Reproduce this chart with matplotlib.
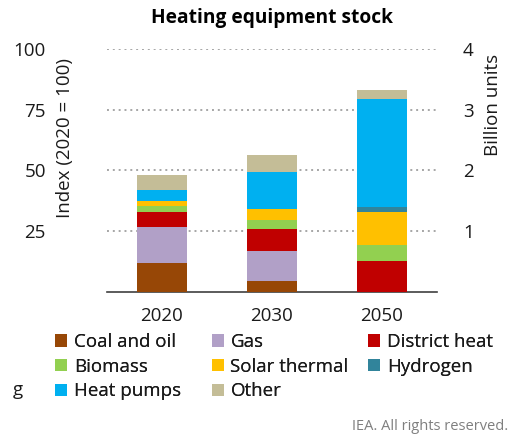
import matplotlib
matplotlib.use("Agg")
import matplotlib.pyplot as plt
import numpy as np

plt.rcParams['font.family'] = ['Open Sans', 'DejaVu Sans']

years = ["2020", "2030", "2050"]
categories = ["Coal and oil", "Gas", "District heat", "Biomass", "Solar thermal",
              "Hydrogen", "Heat pumps", "Other"]
colors = ["#974706", "#B1A0C7", "#C00000", "#92D050", "#FFC000",
          "#31849B", "#00B0F0", "#C4BD97"]
# index values (2020 = 100 scale on left axis)
coal_oil = [11.9, 4.4, 0.0]
gas = [14.6, 12.4, 0.0]
district_heat = [6.5, 9.0, 12.4]
biomass = [2.3, 3.9, 6.9]
solar_thermal = [2.2, 4.4, 13.7]
hydrogen = [0.0, 0.0, 1.8]
heat_pumps = [4.4, 15.1, 44.5]
other = [6.2, 7.2, 3.9]
series = [coal_oil, gas, district_heat, biomass, solar_thermal, hydrogen, heat_pumps, other]

left_ticks = [25, 50, 75, 100]
right_ticks = [1, 2, 3, 4]

W, H = 513, 438
fig = plt.figure(figsize=(W / 100, H / 100), dpi=100)
ax = fig.add_axes([107 / W, 1 - 291.5 / H, (436.7 - 107) / W, (291.5 - 49.3) / H])

x = np.arange(len(years))
bottom = np.zeros(len(years))
handles = []
for vals, c, lab in zip(series, colors, categories):
    b = ax.bar(x, vals, width=0.455, bottom=bottom, color=c, label=lab, linewidth=0, zorder=3)
    handles.append(b)
    bottom += np.array(vals)

ax.set_xlim(-0.5, 2.5)
ax.set_ylim(0, 100)
ax.set_yticks(left_ticks)
ax.set_yticklabels([str(t) for t in left_ticks])
ax.set_xticks(x)
ax.set_xticklabels(years)
ax.tick_params(axis='y', length=0, pad=44, labelsize=13.5, colors='#1A1A1A')
ax.tick_params(axis='x', length=0, pad=11, labelsize=13.5, colors='#1A1A1A')
for lab in ax.get_yticklabels():
    lab.set_horizontalalignment('right')
for s in ['top', 'right', 'left']:
    ax.spines[s].set_visible(False)
ax.spines['bottom'].set_color('#404040')
ax.spines['bottom'].set_linewidth(1.2)
ax.grid(axis='y', color='#A6A6A6', linestyle=(0, (1, 2)), linewidth=1.4, zorder=0)
ax.set_axisbelow(True)

ax2 = ax.twinx()
ax2.set_ylim(0, 4)
ax2.set_yticks(right_ticks)
ax2.set_yticklabels([str(t) for t in right_ticks])
ax2.tick_params(axis='y', length=0, pad=19, labelsize=13.5, colors='#1A1A1A')
for s in ['top', 'right', 'left', 'bottom']:
    ax2.spines[s].set_visible(False)

fig.text(272 / W, 1 - 18 / H, "Heating equipment stock", ha='center', va='center',
         fontsize=13.8, fontweight='bold', color='#000000')
fig.text(65 / W, 1 - 138.5 / H, "Index (2020 = 100)", ha='center', va='center',
         rotation=90, fontsize=13.5, color='#1A1A1A')
fig.text(493 / W, 1 - 105 / H, "Billion units", ha='center', va='center',
         rotation=90, fontsize=13.5, color='#1A1A1A')

cols = [[0, 3, 6], [1, 4, 7], [2, 5]]
col_x = [55, 211.7, 368.3]
for idxs, cx in zip(cols, col_x):
    leg = fig.legend([handles[i] for i in idxs], [categories[i] for i in idxs],
                     loc='upper left', bbox_to_anchor=(cx / W, 1 - 333 / H),
                     frameon=False, fontsize=13.5, handlelength=0.65, handleheight=0.65,
                     handletextpad=0.35, labelspacing=0.36, borderpad=0, borderaxespad=0)
    for t in leg.get_texts():
        t.set_color('#1A1A1A')
    fig.add_artist(leg)

fig.text(13 / W, 1 - 390 / H, "g", ha='left', va='center', fontsize=13.5, color='#1A1A1A')
fig.text(508 / W, 1 - 427 / H, "IEA. All rights reserved.", ha='right', va='center',
         fontsize=10.5, color='#7F7F7F')

fig.savefig("out.png", dpi=100)
